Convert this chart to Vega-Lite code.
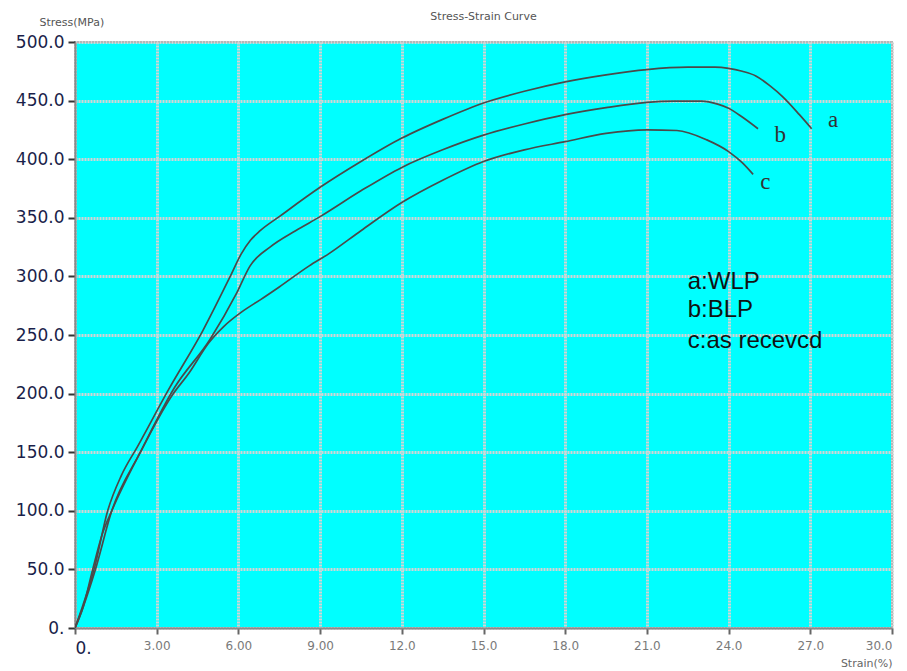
{
  "$schema": "https://vega.github.io/schema/vega-lite/v6.json",
  "autosize": "none",
  "width": 817,
  "height": 586,
  "padding": {"left": 75, "top": 42, "right": 15, "bottom": 43},
  "background": "white",
  "title": {"text": "Stress-Strain Curve", "anchor": "middle", "offset": 19, "dy": 25, "fontSize": 11, "fontWeight": "normal", "color": "#555555", "font": "DejaVu Sans"},
  "config": {
    "view": {"fill": "#00ffff", "stroke": "#9a9a9a", "strokeWidth": 2},
    "axis": {"gridColor": "#d4d4d4", "gridDash": [2, 1], "gridWidth": 3, "gridOpacity": 1, "domainColor": "#8a8a8a", "domainWidth": 2, "tickColor": "#333333", "tickWidth": 2}
  },
  "datasets": {
    "curves": [
      {"s": "a", "x": 0, "y": 0}, {"s": "a", "x": 0.3, "y": 20}, {"s": "a", "x": 0.7, "y": 50}, {"s": "a", "x": 1.2, "y": 100}, {"s": "a", "x": 1.7, "y": 130}, {"s": "a", "x": 2.3, "y": 155}, {"s": "a", "x": 3.45, "y": 204}, {"s": "a", "x": 4.7, "y": 254}, {"s": "a", "x": 5.7, "y": 300}, {"s": "a", "x": 6.1, "y": 319}, {"s": "a", "x": 6.45, "y": 331}, {"s": "a", "x": 6.8, "y": 339}, {"s": "a", "x": 7.5, "y": 351}, {"s": "a", "x": 9, "y": 376}, {"s": "a", "x": 10.5, "y": 398}, {"s": "a", "x": 12, "y": 418}, {"s": "a", "x": 13.5, "y": 434}, {"s": "a", "x": 15, "y": 448}, {"s": "a", "x": 16.5, "y": 458}, {"s": "a", "x": 18, "y": 466}, {"s": "a", "x": 19.5, "y": 472}, {"s": "a", "x": 21, "y": 476.5}, {"s": "a", "x": 22.5, "y": 478.5}, {"s": "a", "x": 23.5, "y": 478.5}, {"s": "a", "x": 24, "y": 477.5}, {"s": "a", "x": 24.5, "y": 475}, {"s": "a", "x": 25, "y": 471}, {"s": "a", "x": 25.5, "y": 463}, {"s": "a", "x": 26, "y": 453}, {"s": "a", "x": 26.6, "y": 438}, {"s": "a", "x": 27.05, "y": 426},
      {"s": "b", "x": 0, "y": 0}, {"s": "b", "x": 0.3, "y": 18}, {"s": "b", "x": 0.75, "y": 50}, {"s": "b", "x": 1.35, "y": 100}, {"s": "b", "x": 2.4, "y": 150}, {"s": "b", "x": 3.65, "y": 205}, {"s": "b", "x": 4.95, "y": 246}, {"s": "b", "x": 5.94, "y": 286}, {"s": "b", "x": 6.43, "y": 309}, {"s": "b", "x": 7.16, "y": 325}, {"s": "b", "x": 8.1, "y": 339}, {"s": "b", "x": 9, "y": 351}, {"s": "b", "x": 10.5, "y": 373}, {"s": "b", "x": 12, "y": 393}, {"s": "b", "x": 13.5, "y": 408}, {"s": "b", "x": 15, "y": 420.5}, {"s": "b", "x": 16.5, "y": 430}, {"s": "b", "x": 18, "y": 438}, {"s": "b", "x": 19.5, "y": 444}, {"s": "b", "x": 21, "y": 448.5}, {"s": "b", "x": 22, "y": 449.5}, {"s": "b", "x": 23, "y": 449.5}, {"s": "b", "x": 23.6, "y": 447}, {"s": "b", "x": 24, "y": 443.5}, {"s": "b", "x": 24.5, "y": 436}, {"s": "b", "x": 25.08, "y": 426},
      {"s": "c", "x": 0, "y": 0}, {"s": "c", "x": 0.3, "y": 18}, {"s": "c", "x": 0.65, "y": 50}, {"s": "c", "x": 1.0, "y": 80}, {"s": "c", "x": 1.35, "y": 100}, {"s": "c", "x": 2.4, "y": 150}, {"s": "c", "x": 3.55, "y": 198}, {"s": "c", "x": 4.2, "y": 218}, {"s": "c", "x": 4.9, "y": 243}, {"s": "c", "x": 5.45, "y": 257}, {"s": "c", "x": 6.2, "y": 271}, {"s": "c", "x": 6.8, "y": 280}, {"s": "c", "x": 7.5, "y": 291}, {"s": "c", "x": 8.6, "y": 309}, {"s": "c", "x": 9.3, "y": 319}, {"s": "c", "x": 10.5, "y": 339}, {"s": "c", "x": 12, "y": 363}, {"s": "c", "x": 13.5, "y": 382}, {"s": "c", "x": 15, "y": 398}, {"s": "c", "x": 16.5, "y": 408}, {"s": "c", "x": 18, "y": 415}, {"s": "c", "x": 19.5, "y": 422}, {"s": "c", "x": 21, "y": 425}, {"s": "c", "x": 22.1, "y": 424.5}, {"s": "c", "x": 23.2, "y": 416.5}, {"s": "c", "x": 24, "y": 406.5}, {"s": "c", "x": 24.5, "y": 397}, {"s": "c", "x": 24.9, "y": 387}
    ],
    "curveLabels": [
      {"x": 27.84, "y": 433.5, "t": "a"},
      {"x": 25.9, "y": 420.6, "t": "b"},
      {"x": 25.35, "y": 380.8, "t": "c"}
    ],
    "legend": [
      {"x": 22.5, "y": 295, "t": "a:WLP"},
      {"x": 22.5, "y": 271, "t": "b:BLP"},
      {"x": 22.5, "y": 244.5, "t": "c:as recevcd"}
    ]
  },
  "layer": [
    {
      "data": {"name": "curves"},
      "mark": {"type": "line", "color": "#4a4a4a", "strokeWidth": 1.7, "interpolate": "monotone", "clip": true},
      "encoding": {
        "x": {"field": "x", "type": "quantitative",
          "scale": {"domain": [0, 30], "nice": false, "zero": false},
          "axis": {
            "values": [0, 3, 6, 9, 12, 15, 18, 21, 24, 27, 30],
            "labelExpr": "datum.value == 0 ? '0.' : (datum.value < 10 ? format(datum.value, '.2f') : format(datum.value, '.1f'))",
            "labelFont": "DejaVu Sans",
            "labelFontSize": {"condition": {"test": "datum.value == 0", "value": 17}, "value": 12},
            "labelColor": {"condition": {"test": "datum.value == 0", "value": "#1a1f4a"}, "value": "#7a7a7a"},
            "labelPadding": 6,
            "tickSize": 6,
            "tickColor": "#666666",
            "title": "Strain(%)",
            "titleFont": "DejaVu Sans",
            "titleFontSize": 11,
            "titleFontWeight": "normal",
            "titleColor": "#666666",
            "titleAnchor": "end",
            "titleAlign": "right",
            "titleBaseline": "middle",
            "titleX": 817,
            "titleY": 35
          }
        },
        "y": {"field": "y", "type": "quantitative",
          "scale": {"domain": [0, 500], "nice": false},
          "axis": {
            "values": [0, 50, 100, 150, 200, 250, 300, 350, 400, 450, 500],
            "labelExpr": "datum.value == 0 ? '0.' : format(datum.value, '.1f')",
            "labelFont": "DejaVu Sans",
            "labelFontSize": 17,
            "labelColor": "#1a1f4a",
            "labelPadding": 4,
            "tickSize": 7,
            "title": "Stress(MPa)",
            "titleFont": "DejaVu Sans",
            "titleFontSize": 11,
            "titleFontWeight": "normal",
            "titleColor": "#555555",
            "titleAngle": 0,
            "titleAlign": "left",
            "titleBaseline": "middle",
            "titleX": -36,
            "titleY": -20
          }
        },
        "detail": {"field": "s"}
      }
    },
    {
      "data": {"name": "curveLabels"},
      "mark": {"type": "text", "font": "Liberation Serif", "fontSize": 23, "color": "#333333", "align": "center", "baseline": "middle"},
      "encoding": {
        "x": {"field": "x", "type": "quantitative"},
        "y": {"field": "y", "type": "quantitative"},
        "text": {"field": "t"}
      }
    },
    {
      "data": {"name": "legend"},
      "mark": {"type": "text", "font": "Liberation Sans", "fontSize": 24, "color": "#111111", "align": "left", "baseline": "middle"},
      "encoding": {
        "x": {"field": "x", "type": "quantitative"},
        "y": {"field": "y", "type": "quantitative"},
        "text": {"field": "t"}
      }
    }
  ]
}
